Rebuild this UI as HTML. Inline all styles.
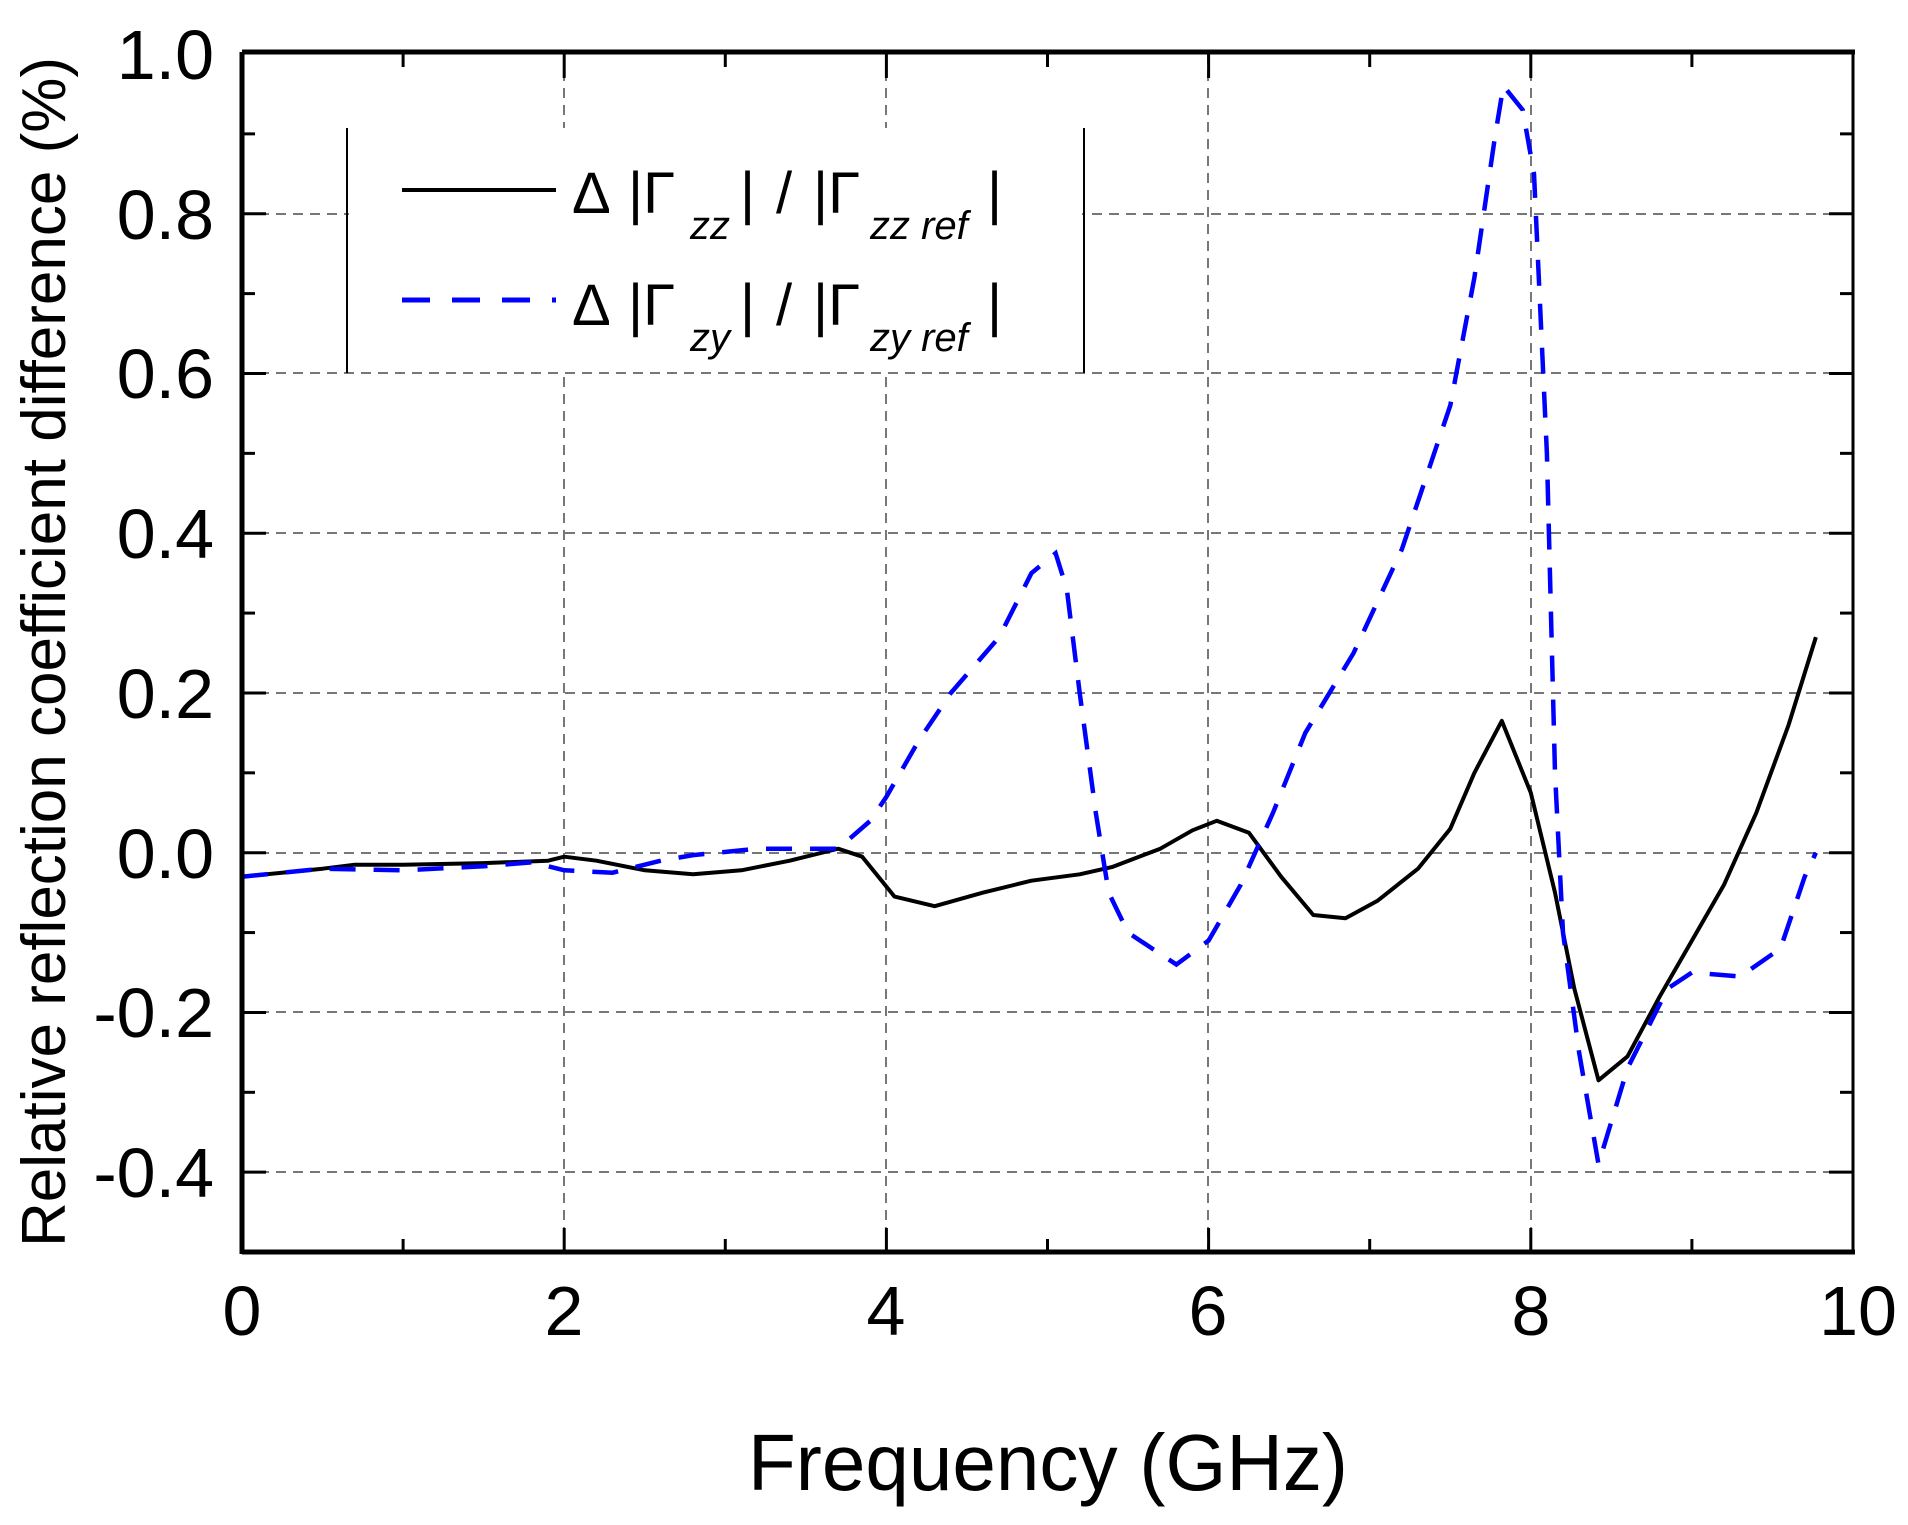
<!DOCTYPE html>
<html><head><meta charset="utf-8"><style>
html,body{margin:0;padding:0;background:#fff;overflow:hidden;}
svg{display:block;}
text{font-family:"Liberation Sans",Arial,sans-serif;fill:#000;}
</style></head><body>
<svg id="s" width="1908" height="1525" viewBox="0 0 1908 1525" xmlns="http://www.w3.org/2000/svg">
<rect width="1908" height="1525" fill="#fff"/>
<g id="grid" stroke="#777" stroke-width="2" stroke-dasharray="10,7" fill="none">
<line x1="564" y1="54" x2="564" y2="1252"/>
<line x1="886" y1="54" x2="886" y2="1252"/>
<line x1="1208" y1="54" x2="1208" y2="1252"/>
<line x1="1531" y1="54" x2="1531" y2="1252"/>
<line x1="242" y1="214" x2="1853" y2="214"/>
<line x1="242" y1="373" x2="1853" y2="373"/>
<line x1="242" y1="533" x2="1853" y2="533"/>
<line x1="242" y1="693" x2="1853" y2="693"/>
<line x1="242" y1="853" x2="1853" y2="853"/>
<line x1="242" y1="1012" x2="1853" y2="1012"/>
<line x1="242" y1="1172" x2="1853" y2="1172"/>
</g>
<rect x="349" y="128" width="733" height="244" fill="#fff"/>
<line x1="347" y1="128" x2="347" y2="373" stroke="#000" stroke-width="2"/>
<line x1="1084" y1="128" x2="1084" y2="373" stroke="#000" stroke-width="2"/>
<line x1="402" y1="190" x2="556" y2="190" stroke="#000" stroke-width="4"/>
<line x1="402" y1="300" x2="556" y2="300" stroke="#0000ff" stroke-width="5" stroke-dasharray="28,22"/>
<g font-size="58">
<text x="572" y="213">Δ</text><text x="628" y="213">|Γ</text><text x="690" y="239" font-size="40" font-style="italic">zz</text>
<text x="740" y="213">|</text><text x="776" y="213">/</text><text x="813" y="213">|Γ</text>
<text x="870" y="239" font-size="40" font-style="italic">zz ref</text><text x="987" y="213">|</text>
<text x="572" y="325">Δ</text><text x="628" y="325">|Γ</text><text x="690" y="351" font-size="40" font-style="italic">zy</text>
<text x="740" y="325">|</text><text x="776" y="325">/</text><text x="813" y="325">|Γ</text>
<text x="870" y="351" font-size="40" font-style="italic">zy ref</text><text x="987" y="325">|</text>
</g>
<polyline id="bk" fill="none" stroke="#000" stroke-width="4" stroke-linejoin="round"/>
<polyline id="bl" fill="none" stroke="#0000ff" stroke-width="4.5" stroke-dasharray="26,18"/>
<g id="ticks" stroke="#000" stroke-width="3"></g>
<line x1="242" y1="1252" x2="1855" y2="1252" stroke="#000" stroke-width="5"/>
<line x1="242" y1="52" x2="1855" y2="52" stroke="#000" stroke-width="5"/>
<line x1="242" y1="52" x2="242" y2="1254" stroke="#000" stroke-width="5"/>
<line x1="1853" y1="52" x2="1853" y2="1254" stroke="#000" stroke-width="3"/>
<g font-size="70" text-anchor="middle">
<text x="242" y="1335">0</text><text x="564" y="1335">2</text><text x="886" y="1335">4</text>
<text x="1208" y="1335">6</text><text x="1531" y="1335">8</text><text x="1858" y="1335">10</text>
</g>
<g font-size="70" text-anchor="end">
<text x="214" y="79">1.0</text><text x="214" y="239">0.8</text><text x="214" y="398">0.6</text>
<text x="214" y="558">0.4</text><text x="214" y="718">0.2</text><text x="214" y="878">0.0</text>
<text x="214" y="1037">-0.2</text><text x="214" y="1197">-0.4</text>
</g>
<text x="1048" y="1490" font-size="80" text-anchor="middle" textLength="600" lengthAdjust="spacingAndGlyphs">Frequency (GHz)</text>
<text transform="translate(65,652) rotate(-90)" font-size="62" text-anchor="middle" textLength="1190" lengthAdjust="spacingAndGlyphs">Relative reflection coefficient difference (%)</text>
</svg>
<script>
function X(f){return 242+f*161.1;}function Y(v){return 852.7-798.7*v;}
var bk=[[0,-0.03],[0.5,-0.02],[0.7,-0.015],[1,-0.015],[1.5,-0.013],[1.9,-0.01],[2,-0.005],[2.2,-0.01],[2.5,-0.022],[2.8,-0.027],[3.1,-0.022],[3.4,-0.01],[3.7,0.005],[3.85,-0.005],[4.05,-0.055],[4.3,-0.067],[4.6,-0.05],[4.9,-0.035],[5.2,-0.027],[5.4,-0.018],[5.7,0.005],[5.9,0.028],[6.05,0.04],[6.25,0.025],[6.45,-0.03],[6.65,-0.078],[6.85,-0.082],[7.05,-0.06],[7.3,-0.02],[7.5,0.03],[7.65,0.1],[7.82,0.165],[8.0,0.075],[8.15,-0.05],[8.27,-0.17],[8.42,-0.285],[8.6,-0.255],[8.8,-0.18],[9.0,-0.11],[9.2,-0.04],[9.4,0.05],[9.6,0.16],[9.77,0.27]];
var bl=[[0,-0.03],[0.5,-0.02],[1,-0.022],[1.5,-0.017],[1.8,-0.012],[2,-0.022],[2.3,-0.025],[2.6,-0.01],[2.8,-0.003],[3.2,0.005],[3.5,0.005],[3.7,0.005],[3.9,0.04],[4.0,0.07],[4.2,0.14],[4.4,0.2],[4.7,0.27],[4.9,0.35],[5.05,0.375],[5.12,0.33],[5.2,0.2],[5.3,0.05],[5.38,-0.05],[5.5,-0.1],[5.8,-0.14],[6.0,-0.11],[6.2,-0.04],[6.4,0.05],[6.6,0.15],[6.9,0.25],[7.2,0.38],[7.5,0.56],[7.65,0.72],[7.78,0.9],[7.83,0.96],[7.95,0.93],[8.02,0.85],[8.1,0.5],[8.15,0.1],[8.2,-0.1],[8.3,-0.25],[8.42,-0.39],[8.6,-0.27],[8.85,-0.17],[9.0,-0.15],[9.3,-0.155],[9.55,-0.12],[9.7,-0.03],[9.77,0.0]];
function pts(a){return a.map(function(p){return X(p[0]).toFixed(1)+","+Y(p[1]).toFixed(1);}).join(" ");}
document.getElementById("bk").setAttribute("points",pts(bk));
document.getElementById("bl").setAttribute("points",pts(bl));
var NS="http://www.w3.org/2000/svg",g=document.getElementById("ticks");
function ln(a,b,c,d){var l=document.createElementNS(NS,"line");l.setAttribute("x1",a);l.setAttribute("y1",b);l.setAttribute("x2",c);l.setAttribute("y2",d);g.appendChild(l);}
for(var i=1;i<10;i++){var x=X(i),L=(i%2==0)?24:13;ln(x,1252,x,1252-L);ln(x,54,x,54+L);}
for(var j=-4;j<10;j++){var y=Y(j/10),L=(j%2==0)?24:13;ln(242,y,242+L,y);ln(1853,y,1853-L,y);}
</script>
</body></html>
